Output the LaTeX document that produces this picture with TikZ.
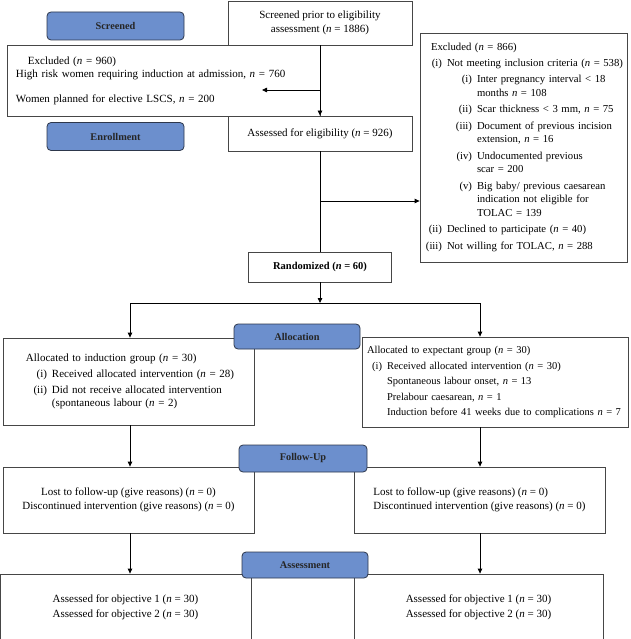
\documentclass[tikz,border=0pt]{standalone}
\usepackage{fontspec}
\setmainfont{Liberation Serif}
\usetikzlibrary{arrows.meta}
\definecolor{stagefill}{RGB}{108,143,205}
\definecolor{stagedraw}{RGB}{45,55,75}
\definecolor{boxdraw}{RGB}{70,70,70}
\newcommand{\nn}{\textit{n}}
\newcommand{\itm}[2]{\makebox[#1][r]{#2}\hspace{5pt}}

\begin{document}
\begin{tikzpicture}[x=1pt, y=-1pt,
  box/.style 2 args={draw=boxdraw, line width=0.8pt, fill=white, inner sep=0pt,
              minimum width=#1, minimum height=#2, align=center,
              font=\fontsize{11}{13.5}\selectfont},
  lab/.style 2 args={draw=stagedraw, fill=stagefill, rounded corners=4pt, line width=0.8pt,
              minimum width=#1, minimum height=#2, inner sep=0pt,
              font=\fontsize{10.3}{12}\selectfont\bfseries, text=black!85},
  arr/.style={line width=0.8pt, -{Triangle[length=5pt, width=4.5pt]}},
  ln/.style={line width=0.8pt},
]
\useasboundingbox (0,0) rectangle (630,639);

\node[box={184pt}{44pt}] (prior) at (320,23)
    {Screened prior to eligibility\\assessment (\nn{} = 1886)};
\node[box={313pt}{71pt}, align=left, text width=295pt, inner xsep=9pt] (exc1) at (163.5,80.5)
    {\hspace*{12pt}Excluded (\nn{} = 960)\\
     \mbox{High risk women requiring induction at admission, \nn{} = 760}\\[11pt]
     Women planned for elective LSCS, \nn{} = 200};
\node[box={184pt}{35pt}] (elig) at (320,133.5) {Assessed for eligibility (\nn{} = 926)};
\node[box={207pt}{229pt}, align=left, text width=199pt, inner xsep=4pt,
      font=\fontsize{10.7}{13.5}\selectfont] (exc2) at (523.5,147.5)
    {\hspace*{7pt}Excluded (\nn{} = 866)\\[2pt]
     \mbox{\itm{18pt}{(i)}Not meeting inclusion criteria (\nn{} = 538)}\\[3pt]
     \itm{48pt}{(i)}Inter pregnancy interval < 18\\
     \itm{48pt}{}months \nn{} = 108\\[3pt]
     \itm{48pt}{(ii)}Scar thickness < 3 mm, \nn{} = 75\\[3pt]
     \itm{48pt}{(iii)}Document of previous incision\\
     \itm{48pt}{}extension, \nn{} = 16\\[3pt]
     \itm{48pt}{(iv)}Undocumented previous\\
     \itm{48pt}{}scar = 200\\[3pt]
     \itm{48pt}{(v)}Big baby/ previous caesarean\\
     \itm{48pt}{}indication not eligible for\\
     \itm{48pt}{}TOLAC = 139\\[3pt]
     \itm{18pt}{(ii)}Declined to participate (\nn{} = 40)\\[3pt]
     \itm{18pt}{(iii)}Not willing for TOLAC, \nn{} = 288};
\node[box={143pt}{30pt}, font=\fontsize{10.5}{13}\selectfont\bfseries] (rand) at (320,267)
    {Randomized (\nn{} = 60)};

\node[box={251pt}{87pt}, align=left, text width=239pt, inner xsep=6pt] (indg) at (128.5,381.5)
    {\hspace*{17pt}Allocated to induction group (\nn{} = 30)\\[2.5pt]
     \itm{38pt}{(i)}Received allocated intervention (\nn{} = 28)\\[2.5pt]
     \itm{38pt}{(ii)}Did not receive allocated intervention\\
     \itm{38pt}{}(spontaneous labour (\nn{} = 2)};
\node[box={266pt}{90pt}, align=left, text width=256pt, inner xsep=5pt,
      font=\fontsize{10.5}{13.5}\selectfont] (expg) at (495,382)
    {Allocated to expectant group (\nn{} = 30)\\[2pt]
     \itm{15pt}{(i)}Received allocated intervention (\nn{} = 30)\\[2pt]
     \itm{15pt}{}Spontaneous labour onset, \nn{} = 13\\[2pt]
     \itm{15pt}{}Prelabour caesarean, \nn{} = 1\\[2pt]
     \mbox{\itm{15pt}{}Induction before 41 weeks due to complications \nn{} = 7}};

\node[box={251pt}{66pt}] (fu1) at (128.5,500)
    {Lost to follow-up (give reasons) (\nn{} = 0)\\Discontinued intervention (give reasons) (\nn{} = 0)};
\node[box={251pt}{66pt}, align=left] (fu2) at (479.5,500)
    {Lost to follow-up (give reasons) (\nn{} = 0)\\Discontinued intervention (give reasons) (\nn{} = 0)};

\node[box={251pt}{66pt}] (as1) at (125.5,607)
    {Assessed for objective 1 (\nn{} = 30)\\[1.5pt]Assessed for objective 2 (\nn{} = 30)};
\node[box={249pt}{66pt}] (as2) at (478.5,607)
    {Assessed for objective 1 (\nn{} = 30)\\[1.5pt]Assessed for objective 2 (\nn{} = 30)};

\node[lab={137pt}{28pt}] (screened) at (115.5,26)  {Screened};
\node[lab={137pt}{28pt}] (enrol)    at (115.5,136.5) {Enrollment};
\node[lab={126pt}{25pt}] (alloc)    at (297,336.5) {Allocation};
\node[lab={128pt}{27pt}] (follow)   at (303,458.5) {Follow-Up};
\node[lab={126pt}{26pt}] (assess)   at (305,565)   {Assessment};

\coordinate (j1) at (320,90);
\coordinate (e1) at (262,90);
\coordinate (j2) at (320,201);
\coordinate (j3) at (320,303);
\coordinate (sl) at (130,303);
\coordinate (sr) at (480,303);

\draw[arr] (prior) -- (elig);
\draw[arr] (j1) -- (e1);
\draw[ln]  (elig) -- (rand);
\draw[arr] (j2) -- (exc2.west |- j2);
\draw[arr] (rand) -- (j3);
\draw[ln]  (sl) -- (sr);
\draw[arr] (sl) -- (sl |- indg.north);
\draw[arr] (sr) -- (sr |- expg.north);
\draw[arr] (sl |- indg.south) -- (sl |- fu1.north);
\draw[arr] (sr |- expg.south) -- (sr |- fu2.north);
\draw[arr] (sl |- fu1.south) -- (sl |- as1.north);
\draw[arr] (sr |- fu2.south) -- (sr |- as2.north);
\end{tikzpicture}
\end{document}
